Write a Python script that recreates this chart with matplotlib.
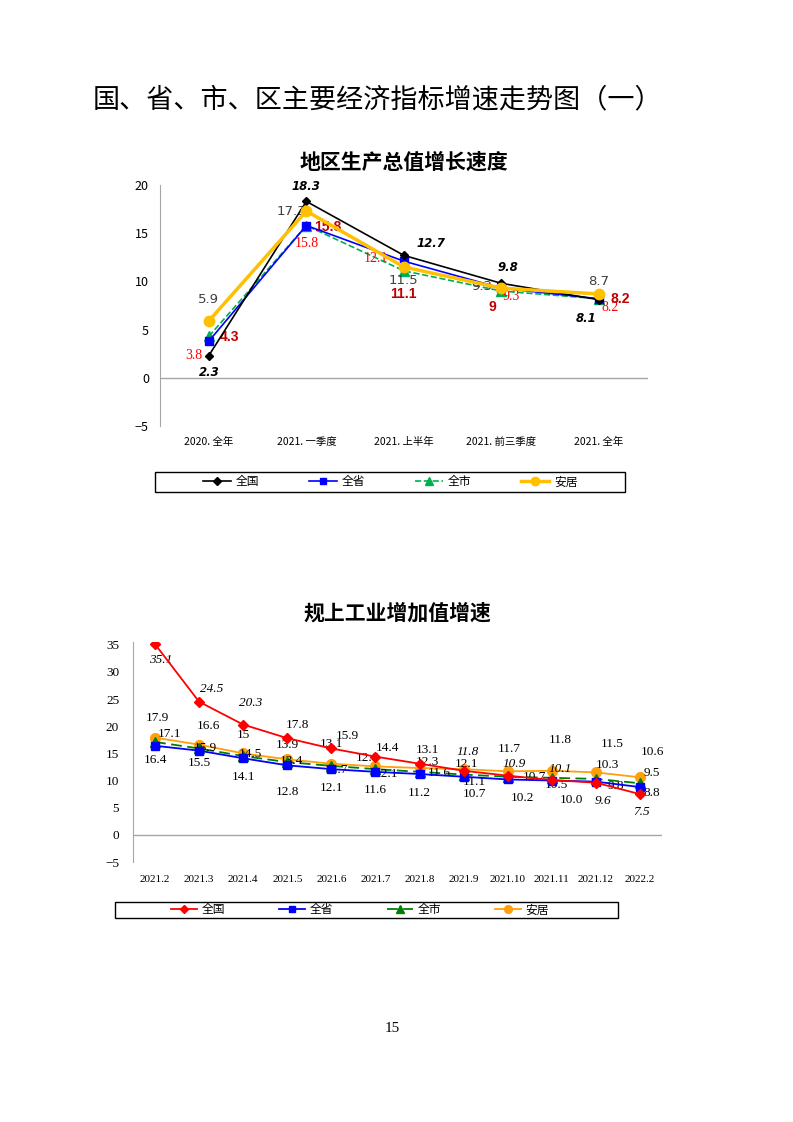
import matplotlib.pyplot as plt
from matplotlib.patches import Rectangle

plt.rcParams['font.family'] = ['Noto Sans CJK SC', 'DejaVu Sans']

# chart 1 data
cats1 = ['2020. 全年', '2021. 一季度', '2021. 上半年', '2021. 前三季度', '2021. 全年']
gdp_nation = [2.3, 18.3, 12.7, 9.8, 8.1]
gdp_province = [3.8, 15.8, 12.1, 9.3, 8.2]
gdp_city = [4.3, 15.8, 11.1, 9, 8.2]
gdp_anju = [5.9, 17.3, 11.5, 9.3, 8.7]
yticks1 = [-5, 0, 5, 10, 15, 20]

# chart 2 data
cats2 = ['2021.2', '2021.3', '2021.4', '2021.5', '2021.6', '2021.7', '2021.8',
         '2021.9', '2021.10', '2021.11', '2021.12', '2022.2']
ind_nation = [35.1, 24.5, 20.3, 17.8, 15.9, 14.4, 13.1, 11.8, 10.9, 10.1, 9.6, 7.5]
ind_province = [16.4, 15.5, 14.1, 12.8, 12.1, 11.6, 11.2, 10.7, 10.2, 10.0, 9.8, 8.8]
ind_city = [17.1, 15.9, 14.5, 13.4, 12.7, 12.1, 11.6, 11.1, 10.7, 10.5, 10.3, 9.5]
ind_anju = [17.9, 16.6, 15, 13.9, 13.1, 12.6, 12.3, 12.1, 11.7, 11.8, 11.5, 10.6]
yticks2 = [-5, 0, 5, 10, 15, 20, 25, 30, 35]
ind_labels_nation = ['35.1', '24.5', '20.3', '17.8', '15.9', '14.4', '13.1', '11.8', '10.9', '10.1', '9.6', '7.5']
ind_labels_province = ['16.4', '15.5', '14.1', '12.8', '12.1', '11.6', '11.2', '10.7', '10.2', '10.0', '9.8', '8.8']

fig = plt.figure(figsize=(7.93, 11.22), dpi=100)

fig.text(377 / 793, 0.911, '国、省、市、区主要经济指标增速走势图（一）', ha='center', va='center',
         fontsize=19.5)

# ---------- chart 1 ----------
ax1 = fig.add_axes([0.2018, 0.6203, 0.615, 0.2148])
x1 = range(len(cats1))
ax1.plot(x1, gdp_nation, color='black', lw=1.2, marker='D', ms=4.5, label='全国', zorder=5)
ax1.plot(x1, gdp_province, color='#0000FF', lw=1.2, marker='s', ms=6, label='全省', zorder=4)
ax1.plot(x1, gdp_city, color='#00B050', lw=1.2, ls='--', marker='^', ms=7, label='全市', zorder=3)
ax1.plot(x1, gdp_anju, color='#FFC000', lw=2.5, marker='o', ms=7.5, label='安居', zorder=6)
ax1.axhline(0, color='#A6A6A6', lw=1)
ax1.set_xlim(-0.5, 4.5)
ax1.set_ylim(-5, 20)
ax1.set_yticks(yticks1)
ax1.set_xticks(list(x1))
ax1.set_xticklabels(cats1, fontsize=7.5)
ax1.tick_params(length=0)
ax1.tick_params(axis='y', labelsize=9, pad=8)
ax1.tick_params(axis='x', pad=8)
for s in ['top', 'right', 'bottom']:
    ax1.spines[s].set_visible(False)
ax1.spines['left'].set_color('#A6A6A6')
ax1.set_title('地区生产总值增长速度', fontsize=15, fontweight='bold', pad=12)

off_nation = [(0, -17), (0, 15), (27, 12), (6, 16), (-13, -19)]
off_prov = [(-15, -14), (0, -18), (-28, 3), (10, -8), (11, -9)]
off_city = [(21, -1), (21, -1), (0, -23), (-9, -16), (21, 0)]
off_anju = [(0, 21), (-15, 0), (0, -14), (-20, 2), (0, 12)]
for i in x1:
    ax1.annotate(f'{gdp_nation[i]}', (i, gdp_nation[i]), xytext=off_nation[i], textcoords='offset pixels',
                 ha='center', va='center', fontsize=8.5, fontweight='bold', fontstyle='italic',
                 family='DejaVu Sans', color='black')
    ax1.annotate(f'{gdp_province[i]}', (i, gdp_province[i]), xytext=off_prov[i], textcoords='offset pixels',
                 ha='center', va='center', fontsize=10, family='Liberation Serif', color='#FF0000')
    ax1.annotate(f'{gdp_city[i]}', (i, gdp_city[i]), xytext=off_city[i], textcoords='offset pixels',
                 ha='center', va='center', fontsize=10, fontweight='bold', family='Liberation Sans',
                 color='#C00000')
    ax1.annotate(f'{gdp_anju[i]}', (i, gdp_anju[i]), xytext=off_anju[i], textcoords='offset pixels',
                 ha='center', va='center', fontsize=9.5, family='DejaVu Sans', color='#404040')

fig.add_artist(Rectangle((155 / 793, 1 - 492 / 1122), 470 / 793, 20 / 1122,
                         transform=fig.transFigure, fill=False, edgecolor='black', lw=1))
h, l = ax1.get_legend_handles_labels()
fig.legend(h, l, loc='center', bbox_to_anchor=(390 / 793, 1 - 482 / 1122), ncol=4, frameon=False,
           fontsize=8.5, handlelength=2.4, columnspacing=4.2, handletextpad=0.4, markerscale=0.8)

# ---------- chart 2 ----------
ax2 = fig.add_axes([0.1677, 0.2317, 0.6671, 0.1961])
x2 = range(len(cats2))
ax2.plot(x2, ind_nation, color='#FF0000', lw=1.3, marker='D', ms=5, label='全国', zorder=5)
ax2.plot(x2, ind_province, color='#0000FF', lw=1.3, marker='s', ms=6, label='全省', zorder=4)
ax2.plot(x2, ind_city, color='#008000', lw=1.3, ls=(0, (6, 3)), marker='^', ms=6.5, label='全市', zorder=3)
ax2.plot(x2, ind_anju, color='#FFA00A', lw=1.3, marker='o', ms=7, label='安居', zorder=2)
ax2.axhline(0, color='#A6A6A6', lw=1)
ax2.set_xlim(-0.5, 11.5)
ax2.set_ylim(-5, 35.5)
ax2.set_yticks(yticks2)
ax2.set_yticklabels(['−5' if t < 0 else str(t) for t in yticks2], family='Liberation Serif', fontsize=9.5)
ax2.set_xticks(list(x2))
ax2.set_xticklabels(cats2, family='Liberation Serif', fontsize=8)
ax2.tick_params(length=0)
ax2.tick_params(axis='y', pad=10)
ax2.tick_params(axis='x', pad=9)
for s in ['top', 'right', 'bottom']:
    ax2.spines[s].set_visible(False)
ax2.spines['left'].set_color('#A6A6A6')
ax2.set_title('规上工业增加值增速', fontsize=15, fontweight='bold', pad=16)

off2_nation = [(6, -16), (13, 13), (7, 22), (10, 13), (16, 12), (12, 9), (8, 14), (4, 19), (6, 12),
               (8, 11), (7, -18), (2, -18)]
italic_nation = [True, True, True, False, False, False, False, True, True, True, True, True]
off2_prov = [(0, -14), (0, -12), (0, -19), (0, -27), (0, -19), (0, -18), (0, -19), (11, -17), (15, -19),
             (20, -19), (20, -4), (12, -6)]
off2_city = [(15, 8), (6, 0), (7, 2), (4, 1), (5, -4), (11, -5), (20, -1), (11, -7), (27, 0), (5, -7),
             (12, 14), (12, 10)]
off2_anju = [(2, 20), (9, 19), (0, 18), (0, 14), (0, 20), (-8, 8), (8, 6), (3, 5), (2, 22), (8, 31),
             (16, 28), (13, 25)]
for i in x2:
    ax2.annotate(ind_labels_nation[i], (i, ind_nation[i]), xytext=off2_nation[i], textcoords='offset pixels',
                 ha='center', va='center', fontsize=9.5, family='Liberation Serif',
                 fontstyle='italic' if italic_nation[i] else 'normal', color='black')
    ax2.annotate(ind_labels_province[i], (i, ind_province[i]), xytext=off2_prov[i], textcoords='offset pixels',
                 ha='center', va='center', fontsize=9.5, family='Liberation Serif', color='black')
    ax2.annotate(f'{ind_city[i]}', (i, ind_city[i]), xytext=off2_city[i], textcoords='offset pixels',
                 ha='center', va='center', fontsize=9.5, family='Liberation Serif', color='black')
    ax2.annotate(f'{ind_anju[i]}', (i, ind_anju[i]), xytext=off2_anju[i], textcoords='offset pixels',
                 ha='center', va='center', fontsize=9.5, family='Liberation Serif', color='black')

fig.add_artist(Rectangle((115 / 793, 1 - 918 / 1122), 503 / 793, 16 / 1122,
                         transform=fig.transFigure, fill=False, edgecolor='black', lw=1))
h, l = ax2.get_legend_handles_labels()
fig.legend(h, l, loc='center', bbox_to_anchor=(360 / 793, 1 - 910 / 1122), ncol=4, frameon=False,
           fontsize=8.5, handlelength=2.2, columnspacing=4.55, handletextpad=0.4, markerscale=0.8)

fig.text(392 / 793, 1 - 1028 / 1122, '15', ha='center', va='center', fontsize=11, family='Liberation Serif')

fig.savefig('out.png', dpi=100)
